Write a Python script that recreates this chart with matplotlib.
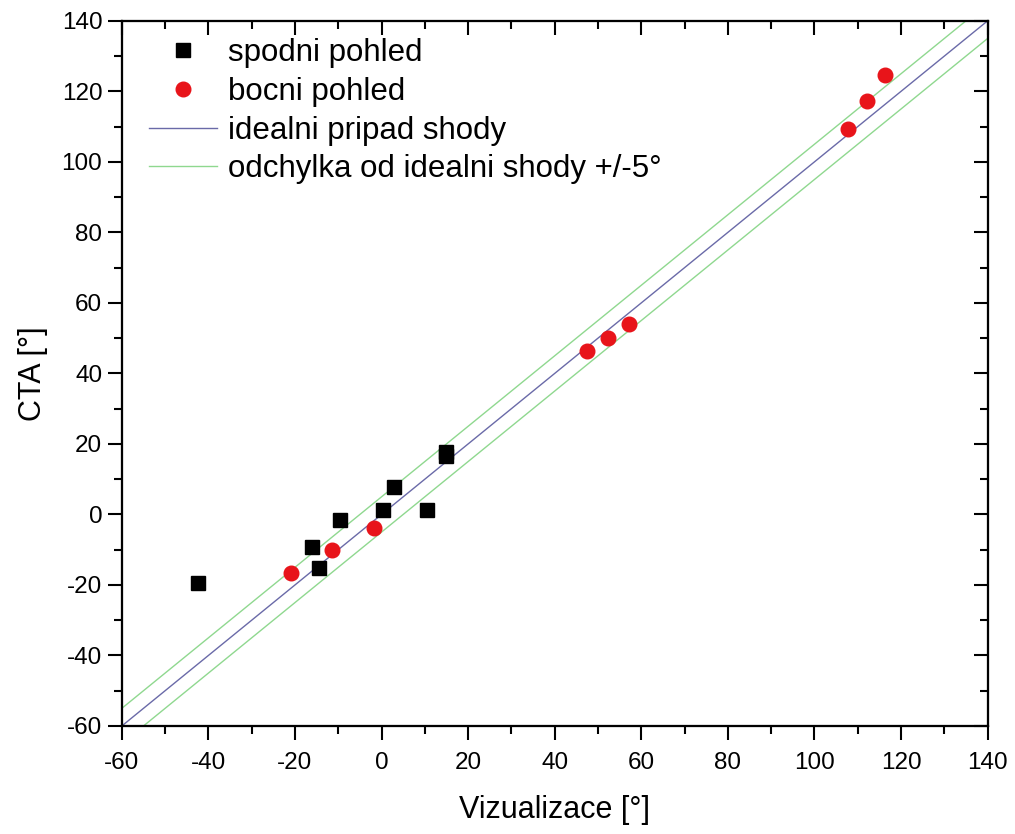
import matplotlib
matplotlib.use("Agg")
import matplotlib.pyplot as plt
import numpy as np
from matplotlib.ticker import MultipleLocator

plt.rcParams['font.family'] = ['Liberation Sans', 'DejaVu Sans']
plt.rcParams['axes.unicode_minus'] = False

# spodni pohled (black squares)
spodni_x = [-42.4, -16.1, -14.5, -9.7, 0.3, 2.8, 10.4, 14.8, 14.9]
spodni_y = [-19.4, -9.2, -15.2, -1.6, 1.3, 7.8, 1.3, 17.7, 16.6]

# bocni pohled (red circles)
bocni_x = [-21.0, -11.5, -1.8, 47.4, 52.2, 57.1, 107.7, 112.1, 116.2]
bocni_y = [-16.6, -10.1, -3.8, 46.4, 50.1, 54.0, 109.4, 117.3, 124.7]

ideal = np.array([-60, 140])
odchylka = 5

fig = plt.figure(figsize=(10.15, 8.34), dpi=100)
ax = fig.add_axes([0.120, 0.1295, 0.853, 0.8455])

ax.plot(spodni_x, spodni_y, 's', color='black', markersize=9.5, label='spodni pohled', zorder=3)
ax.plot(bocni_x, bocni_y, 'o', color='#e8141a', markersize=10.5, label='bocni pohled', zorder=3)
ax.plot(ideal, ideal, color='#6a6aa8', linewidth=1, label='idealni pripad shody')
ax.plot(ideal, ideal + odchylka, color='#8fd88f', linewidth=1, label='odchylka od idealni shody +/-5°')
ax.plot(ideal, ideal - odchylka, color='#8fd88f', linewidth=1)

ax.set_xlim(-60, 140)
ax.set_ylim(-60, 140)
ax.xaxis.set_major_locator(MultipleLocator(20))
ax.xaxis.set_minor_locator(MultipleLocator(10))
ax.yaxis.set_major_locator(MultipleLocator(20))
ax.yaxis.set_minor_locator(MultipleLocator(10))
# outward ticks on left/bottom, inward on top/right
ax.tick_params(which='both', direction='out', labelsize=17.5, width=1.5)
ax.tick_params(which='major', length=10)
ax.tick_params(which='minor', length=6)
ax.tick_params(axis='x', which='major', pad=9)
ax.tick_params(axis='y', which='major', pad=4)
ax2 = ax.twinx()
ax3 = ax.twiny()
for a in (ax2, ax3):
    a.set_xlim(-60, 140)
    a.set_ylim(-60, 140)
    a.xaxis.set_major_locator(MultipleLocator(20))
    a.xaxis.set_minor_locator(MultipleLocator(10))
    a.yaxis.set_major_locator(MultipleLocator(20))
    a.yaxis.set_minor_locator(MultipleLocator(10))
    a.tick_params(which='both', direction='in', width=1.5, labelright=False, labeltop=False)
    a.tick_params(which='major', length=10)
    a.tick_params(which='minor', length=6)
for a in (ax, ax2, ax3):
    for s in a.spines.values():
        s.set_linewidth(1.5)

ax.set_xlabel('Vizualizace [°]', fontsize=22, labelpad=15)
ax.set_ylabel('CTA [°]', fontsize=22, labelpad=10)

ax.legend(loc='upper left', bbox_to_anchor=(0.011, 1.0), frameon=False, fontsize=22.5,
          handlelength=2.2, handletextpad=0.35, labelspacing=0.28,
          borderaxespad=0.45, borderpad=0.1)

fig.savefig('out.png', dpi=100)
